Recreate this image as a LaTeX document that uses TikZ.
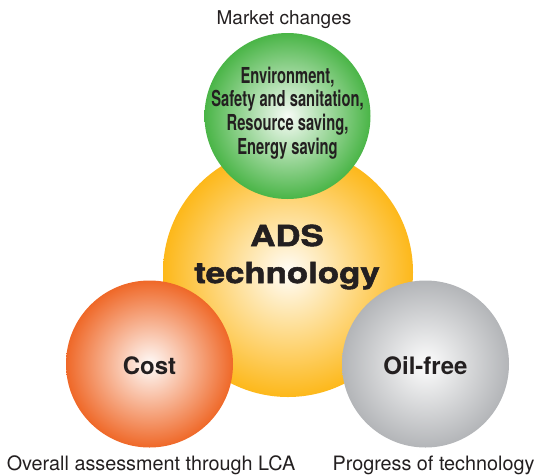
\documentclass[tikz,border=0pt]{standalone}
\usepackage{fontspec}
\setmainfont{TeX Gyre Heros}
\newfontfamily\condfont[FakeStretch=0.67]{TeX Gyre Heros}
\newfontfamily\widefont[FakeStretch=1.2,FakeBold=2]{TeX Gyre Heros}
\usepackage{tikz}
\usetikzlibrary{shapes}
\usetikzlibrary{positioning}
\definecolor{inktext}{HTML}{231F20}
\definecolor{adsyellow}{HTML}{FDB81A}
\definecolor{envgreen}{HTML}{4AB547}
\definecolor{costorange}{HTML}{EF6828}
\definecolor{oilgrey}{HTML}{B3B5B8}
\tikzset{
  ball/.style={circle, inner sep=0pt, draw=none},
  outerlabel/.style={font=\fontsize{19.8}{22}\selectfont, text=inktext, inner sep=0pt},
  balltext/.style={font=\bfseries\fontsize{24}{28}\selectfont, text=inktext, inner sep=0pt}
}

\begin{document}
\begin{tikzpicture}[x=1pt,y=-1pt]
  \useasboundingbox (0,0) rectangle (543,474);
  \node[ball, minimum size=250pt, inner color=adsyellow!3, outer color=adsyellow] (ads) at (288,272) {};
  \node[ball, minimum size=166pt, inner color=envgreen!5, outer color=envgreen] (env) at (287.5,116) {};
  \node[ball, minimum size=167pt, inner color=costorange!3, outer color=costorange] (cost) at (149.5,364) {};
  \node[ball, minimum size=167pt, inner color=oilgrey!3, outer color=oilgrey] (oil) at (425.5,364) {};
  \node[balltext, font=\widefont\bfseries\fontsize{29}{37}\selectfont, align=center] (adstext) at (287,257) {ADS\\technology};
  \node[balltext, font=\condfont\bfseries\fontsize{22}{23.7}\selectfont, align=center] (envtext) at (287.5,113) {Environment,\\Safety and sanitation,\\Resource saving,\\Energy saving};
  \node[balltext] (costtext) at (149.5,366) {Cost};
  \node[balltext] (oiltext) at (425.5,366) {Oil-free};
  \node[outerlabel, font=\fontsize{19}{22}\selectfont] (market) at (284,19.5) {Market changes};
  \node[outerlabel] (lca) at (151,465) {Overall assessment through LCA};
  \node[outerlabel] (progress) at (433.5,465) {Progress of technology};
\end{tikzpicture}
\end{document}
